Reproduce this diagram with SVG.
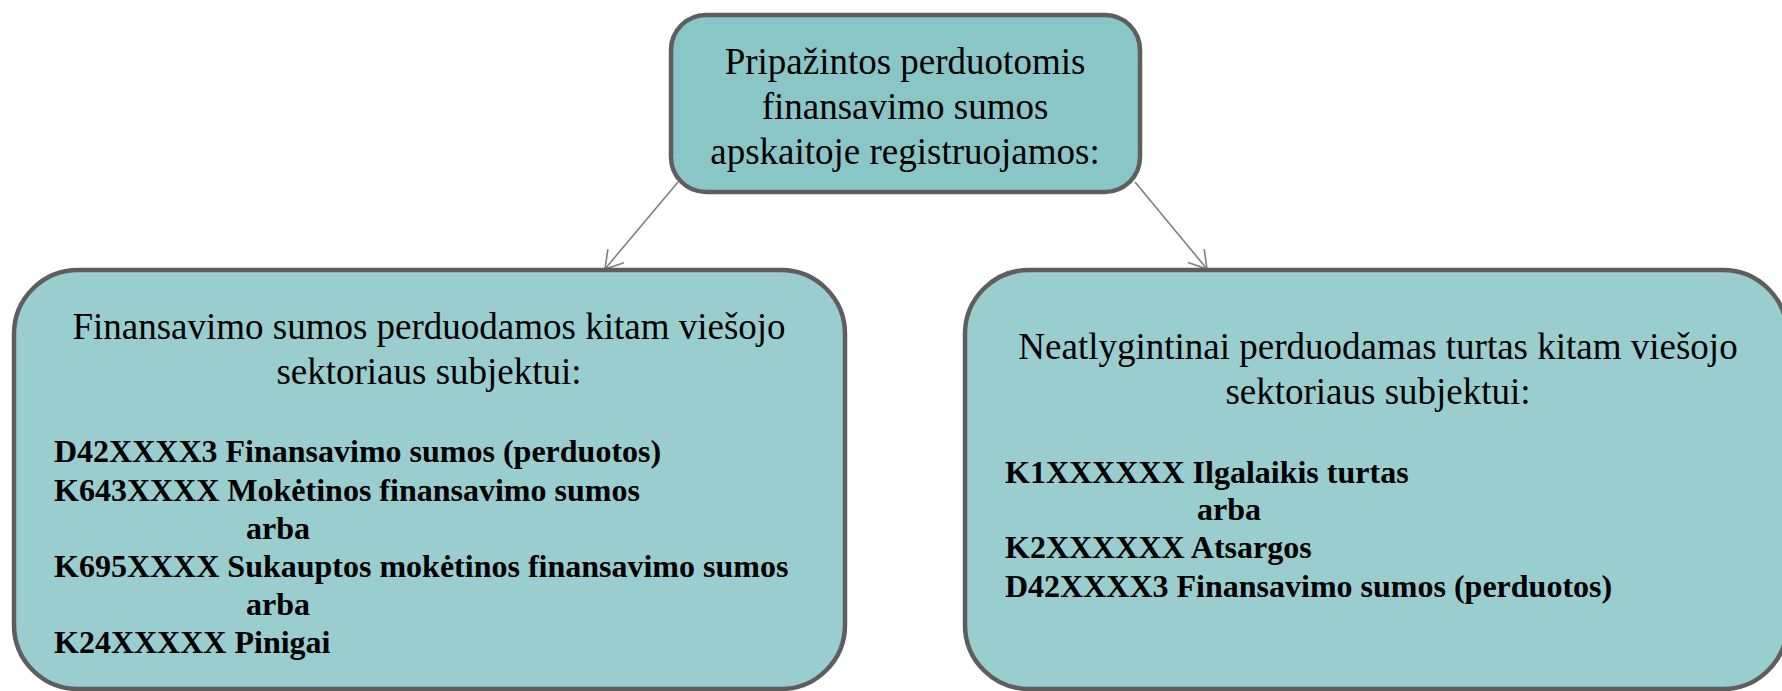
<svg xmlns="http://www.w3.org/2000/svg" width="1782" height="691" viewBox="0 0 1782 691">
<style>
.box{stroke:#5e5e5e;stroke-width:4.5}
.top{fill:#8ac6c6}
.low{fill:#9acdce}
.t{font-family:"Liberation Serif","Times New Roman",serif;fill:#000}
.reg{font-size:37px;text-anchor:middle}
.bold{font-size:32px;font-weight:bold}
.conn{stroke:#808080;stroke-width:1.6;fill:none}
</style>
<defs>
<marker id="arr" markerUnits="userSpaceOnUse" markerWidth="30" markerHeight="30" viewBox="-25 -15 30 30" refX="0" refY="0" orient="auto">
<path d="M-17,-10.5 L0,0 L-17,10.5" fill="none" stroke="#808080" stroke-width="1.6"/>
</marker>
</defs>
<rect width="1782" height="691" fill="#fff"/>
<g id="connectors">
<line class="conn" x1="678" y1="182" x2="605" y2="269" marker-end="url(#arr)"/>
<line class="conn" x1="1135" y1="182" x2="1207" y2="269" marker-end="url(#arr)"/>
</g>
<g id="node-top">
<rect class="box top" x="671" y="15" width="469" height="177" rx="35" ry="35"/>
<text class="t reg" x="905" y="74">Pripažintos perduotomis</text>
<text class="t reg" x="905" y="119">finansavimo sumos</text>
<text class="t reg" x="905" y="164">apskaitoje registruojamos:</text>
</g>
<g id="node-left">
<rect class="box low" x="14" y="270" width="831" height="419" rx="64" ry="64"/>
<text class="t reg" x="429" y="339">Finansavimo sumos perduodamos kitam viešojo</text>
<text class="t reg" x="429" y="384">sektoriaus subjektui:</text>
<text class="t bold" x="54" y="462">D42XXXX3 Finansavimo sumos (perduotos)</text>
<text class="t bold" x="54" y="501">K643XXXX Mokėtinos finansavimo sumos</text>
<text class="t bold" x="246" y="539">arba</text>
<text class="t bold" x="54" y="577">K695XXXX Sukauptos mokėtinos finansavimo sumos</text>
<text class="t bold" x="246" y="615">arba</text>
<text class="t bold" x="54" y="653">K24XXXXX Pinigai</text>
</g>
<g id="node-right">
<rect class="box low" x="965" y="270" width="822" height="419" rx="64" ry="64"/>
<text class="t reg" x="1378" y="359">Neatlygintinai perduodamas turtas kitam viešojo</text>
<text class="t reg" x="1378" y="404">sektoriaus subjektui:</text>
<text class="t bold" x="1005" y="483">K1XXXXXX Ilgalaikis turtas</text>
<text class="t bold" x="1197" y="520">arba</text>
<text class="t bold" x="1005" y="558">K2XXXXXX Atsargos</text>
<text class="t bold" x="1005" y="597">D42XXXX3 Finansavimo sumos (perduotos)</text>
</g>
</svg>
